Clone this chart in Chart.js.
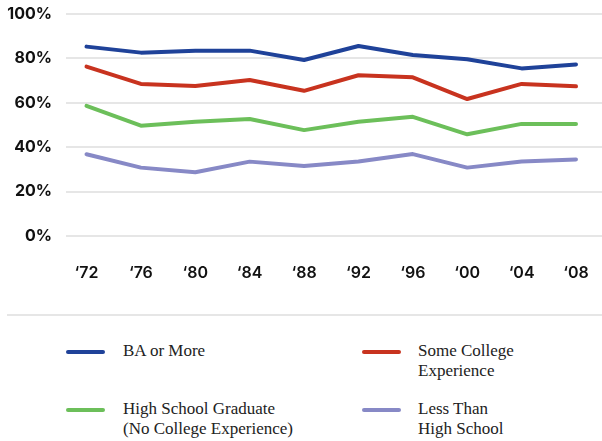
<!DOCTYPE html>
<html>
<head>
<meta charset="utf-8">
<title>Turnout by education</title>
<script src="https://cdn.jsdelivr.net/npm/chart.js@4/dist/chart.umd.min.js"></script>
<style>
  html, body { margin: 0; padding: 0; background: #fff; }
  body { width: 602px; height: 441px; position: relative; overflow: hidden; }
  #wrap { position: absolute; left: 0; top: 0; width: 602px; height: 300px; }
  #rule { position: absolute; left: 7px; top: 314px; width: 595px; height: 2px; background: #e6e6e6; }
  .item { position: absolute; font-family: "Liberation Serif", serif; font-size: 17px; line-height: 20px; color: #222; white-space: pre-line; }
  .swatch { position: absolute; width: 39px; height: 4px; border-radius: 2px; }
</style>
</head>
<body>
<div id="wrap"><canvas id="chart" width="602" height="300"></canvas></div>
<div id="rule"></div>
<div id="legend"></div>
<script>
// Election years on the horizontal axis
const years = ["\u201872", "\u201876", "\u201880", "\u201884", "\u201888", "\u201892", "\u201896", "\u201800", "\u201804", "\u201808"];

// Turnout (%) by level of education
const baOrMore       = [85.3, 82.6, 83.5, 83.5, 79.3, 85.6, 81.5, 79.6, 75.5, 77.3];
const someCollege    = [76.3, 68.5, 67.6, 70.3, 65.4, 72.4, 71.5, 61.7, 68.5, 67.4];
const highSchoolGrad = [58.6, 49.7, 51.5, 52.7, 47.7, 51.5, 53.7, 45.8, 50.5, 50.5];
const lessThanHS     = [36.8, 30.8, 28.7, 33.5, 31.5, 33.6, 36.9, 30.8, 33.6, 34.5];

const yTicks = [0, 20, 40, 60, 80, 100];

const seriesNames  = ["BA or More", "Some College\nExperience", "High School Graduate\n(No College Experience)", "Less Than\nHigh School"];
const seriesColors = ["#1f4299", "#c8331f", "#6cbf5a", "#8789c6"];
const seriesValues = [baOrMore, someCollege, highSchoolGrad, lessThanHS];

const datasets = seriesValues.map((vals, k) => ({
  label: seriesNames[k],
  data: vals.map((v, i) => ({ x: i, y: v })),
  borderColor: seriesColors[k],
  backgroundColor: seriesColors[k],
  borderWidth: 4,
  pointRadius: 0,
  tension: 0,
  borderCapStyle: "round",
  borderJoinStyle: "round"
}));

new Chart(document.getElementById("chart"), {
  type: "line",
  data: { datasets },
  options: {
    responsive: false,
    animation: false,
    events: [],
    layout: { padding: { top: 14, right: 0, left: 0, bottom: 0 } },
    plugins: { legend: { display: false }, tooltip: { enabled: false } },
    scales: {
      x: {
        type: "linear",
        min: -0.377,
        max: 9.478,
        afterBuildTicks: s => { s.ticks = years.map((_, i) => ({ value: i })); },
        afterFit: s => { s.height = 64; s.paddingLeft = 0; s.paddingRight = 0; },
        grid: { display: false, drawTicks: false },
        border: { display: false },
        ticks: {
          padding: 28,
          maxRotation: 0,
          autoSkip: false,
          color: "#111",
          font: { family: "Inter", size: 16, weight: 600 },
          callback: v => years[v]
        }
      },
      y: {
        min: 0,
        max: 100,
        afterBuildTicks: s => { s.ticks = yTicks.map(v => ({ value: v })); },
        afterFit: s => { s.width = 66; s.paddingTop = 0; s.paddingBottom = 0; },
        grid: { color: "#e6e6e6", lineWidth: 2, drawTicks: false },
        border: { display: false },
        ticks: {
          padding: 14,
          color: "#111",
          font: { family: "Inter", size: 16, weight: 700 },
          callback: v => v + "%"
        }
      }
    }
  }
});

// Two-column legend below the rule
const legend = document.getElementById("legend");
const cols = [{ sw: 66, tx: 123 }, { sw: 362, tx: 418 }];
const rows = [352, 410];
seriesNames.forEach((name, k) => {
  const c = cols[k % 2], r = rows[Math.floor(k / 2)];
  const sw = document.createElement("div");
  sw.className = "swatch";
  sw.style.left = c.sw + "px";
  sw.style.top = (r - 2) + "px";
  sw.style.background = seriesColors[k];
  legend.appendChild(sw);
  const t = document.createElement("div");
  t.className = "item";
  t.style.left = c.tx + "px";
  t.style.top = (r - 11) + "px";
  t.textContent = name;
  legend.appendChild(t);
});
</script>
</body>
</html>
